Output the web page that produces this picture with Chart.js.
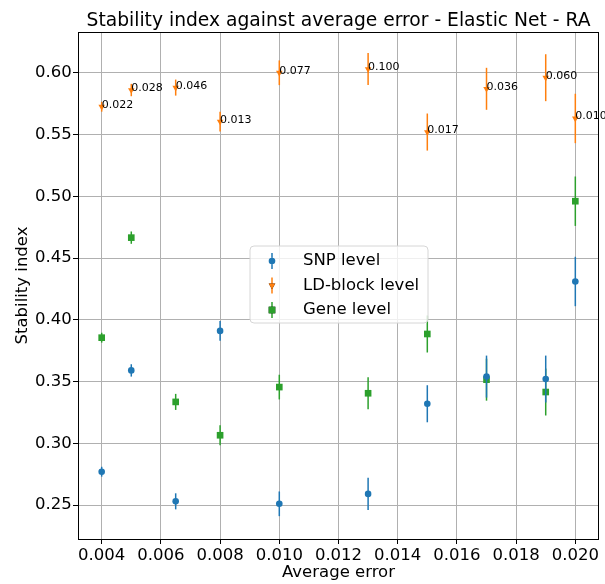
<!DOCTYPE html>
<html>
<head>
<meta charset="utf-8">
<script src="https://cdn.jsdelivr.net/npm/chart.js@4.4.0/dist/chart.umd.min.js"></script>
<style>
  body { margin: 0; background: #fff; }
</style>
</head>
<body>
<div style="width:605px;height:584px">
  <canvas id="stabilityChart" width="605" height="584"></canvas>
</div>
<script>
// values
const averageError = [0.004, 0.005, 0.0065, 0.008, 0.010, 0.013, 0.015, 0.017, 0.019, 0.020];
const snpLevel = [0.277, 0.359, 0.253, 0.391, 0.251, 0.259, 0.332, 0.354, 0.352, 0.431];
const ldBlockLevel = [0.5725, 0.586, 0.588, 0.5605, 0.600, 0.603, 0.552, 0.587, 0.596, 0.563];
const geneLevel = [0.3855, 0.4665, 0.3335, 0.3065, 0.3455, 0.3405, 0.3885, 0.3515, 0.3415, 0.496];
const errorBars = [0.004, 0.005, 0.0065, 0.008, 0.010, 0.013, 0.015, 0.017, 0.019, 0.020];
const ldLabels = ['0.022', '0.028', '0.046', '0.013', '0.077', '0.100', '0.017', '0.036', '0.060', '0.010'];
const xTicks = [0.004, 0.006, 0.008, 0.010, 0.012, 0.014, 0.016, 0.018, 0.020];
const yTicks = [0.25, 0.30, 0.35, 0.40, 0.45, 0.50, 0.55, 0.60];

const FONT = "'DejaVu Sans', sans-serif";
const LABEL_SIZE = 16.5;

function toPoints(ys) {
  return averageError.map((x, i) => ({ x: x, y: ys[i] }));
}

// vertical error bars, drawn just under each dataset's markers
const errorBarPlugin = {
  id: 'errorBars',
  beforeDatasetDraw(chart, args) {
    const ds = chart.data.datasets[args.index];
    const meta = args.meta;
    const yScale = chart.scales.y;
    const ctx = chart.ctx;
    ctx.save();
    ctx.beginPath();
    ctx.rect(chart.chartArea.left, chart.chartArea.top,
      chart.chartArea.right - chart.chartArea.left, chart.chartArea.bottom - chart.chartArea.top);
    ctx.clip();
    ctx.strokeStyle = ds.borderColor;
    ctx.lineWidth = 1.5;
    meta.data.forEach((pt, i) => {
      const v = ds.data[i].y;
      const e = errorBars[i];
      ctx.beginPath();
      ctx.moveTo(pt.x, yScale.getPixelForValue(v - e));
      ctx.lineTo(pt.x, yScale.getPixelForValue(v + e));
      ctx.stroke();
    });
    ctx.restore();
  }
};

// frame, LD-block annotations and the in-plot legend
const overlayPlugin = {
  id: 'overlay',
  afterDatasetsDraw(chart) {
    const ctx = chart.ctx;
    const a = chart.chartArea;
    ctx.save();
    ctx.strokeStyle = '#000';
    ctx.lineWidth = 1;
    ctx.strokeRect(Math.round(a.left) + 0.5, Math.round(a.top) + 0.5,
      Math.round(a.right - a.left) - 1, Math.round(a.bottom - a.top));

    // annotations next to the LD-block points
    const ldMeta = chart.getDatasetMeta(1);
    ctx.fillStyle = '#000';
    ctx.font = '11px ' + FONT;
    ctx.textAlign = 'left';
    ctx.textBaseline = 'alphabetic';
    ldMeta.data.forEach((pt, i) => {
      ctx.fillText(ldLabels[i], pt.x, pt.y + 1);
    });

    // legend box
    const bx = 250, by = 246, bw = 178, bh = 77, r = 4;
    ctx.beginPath();
    ctx.moveTo(bx + r, by);
    ctx.arcTo(bx + bw, by, bx + bw, by + bh, r);
    ctx.arcTo(bx + bw, by + bh, bx, by + bh, r);
    ctx.arcTo(bx, by + bh, bx, by, r);
    ctx.arcTo(bx, by, bx + bw, by, r);
    ctx.closePath();
    ctx.fillStyle = 'rgba(255,255,255,0.8)';
    ctx.fill();
    ctx.strokeStyle = '#d6d6d6';
    ctx.stroke();

    const entries = chart.data.datasets;
    entries.forEach((ds, i) => {
      const cy = 261 + i * 24.5;
      const mx = 272;
      ctx.strokeStyle = ds.borderColor;
      ctx.lineWidth = 1.5;
      ctx.beginPath();
      ctx.moveTo(mx, cy - 8);
      ctx.lineTo(mx, cy + 8);
      ctx.stroke();
      Chart.helpers.drawPoint(ctx, {
        pointStyle: ds.pointStyle,
        radius: ds.pointRadius,
        rotation: ds.rotation || 0,
        borderWidth: 0
      }, mx, cy);
      ctx.fillStyle = ds.backgroundColor;
      ctx.fill();
      ctx.fillStyle = '#000';
      ctx.font = LABEL_SIZE + 'px ' + FONT;
      ctx.textBaseline = 'middle';
      ctx.fillText(ds.label, 303, cy);
    });
    ctx.restore();
  }
};

const canvas = document.getElementById('stabilityChart');
new Chart(canvas, {
  type: 'scatter',
  data: {
    datasets: [
      {
        label: 'SNP level',
        data: toPoints(snpLevel),
        backgroundColor: '#1f77b4',
        borderColor: '#1f77b4',
        pointStyle: 'circle',
        pointRadius: 3.3,
        borderWidth: 0,
      },
      {
        label: 'LD-block level',
        data: toPoints(ldBlockLevel),
        backgroundColor: '#ff7f0e',
        borderColor: '#ff7f0e',
        pointStyle: 'triangle',
        rotation: 180,
        pointRotation: 180,
        pointRadius: 3.8,
        borderWidth: 0,
      },
      {
        label: 'Gene level',
        data: toPoints(geneLevel),
        backgroundColor: '#2ca02c',
        borderColor: '#2ca02c',
        pointStyle: 'rect',
        pointRadius: 4.7,
        borderWidth: 0,
      },
    ],
  },
  options: {
    responsive: false,
    animation: false,
    events: [],
    layout: { padding: { left: 0, right: 6, top: 0, bottom: 0 } },
    plugins: {
      legend: { display: false },
      tooltip: { enabled: false },
      title: {
        display: true,
        fullSize: false,
        text: 'Stability index against average error - Elastic Net - RA',
        color: '#000',
        font: { family: FONT, size: 18.7, weight: 'normal' },
        padding: { top: 9.5, bottom: 0.06 },
      },
    },
    scales: {
      x: {
        type: 'linear',
        min: 0.0032,
        max: 0.0208,
        afterBuildTicks: (scale) => { scale.ticks = xTicks.map((v) => ({ value: v })); },
        afterFit: (scale) => { scale.height = 45; },
        ticks: {
          color: '#000',
          font: { family: FONT, size: LABEL_SIZE },
          padding: 1.5,
          maxRotation: 0,
          autoSkip: false,
          callback: (v) => v.toFixed(3),
        },
        grid: { color: '#b0b0b0', lineWidth: 1, tickColor: '#000', tickLength: 5 },
        border: { display: false },
        title: {
          display: true,
          text: 'Average error',
          color: '#000',
          font: { family: FONT, size: LABEL_SIZE },
          padding: { top: 0, bottom: 1.3 },
        },
      },
      y: {
        type: 'linear',
        min: 0.2225,
        max: 0.633,
        afterBuildTicks: (scale) => { scale.ticks = yTicks.map((v) => ({ value: v })); },
        afterFit: (scale) => { scale.width = 78; },
        ticks: {
          color: '#000',
          font: { family: FONT, size: LABEL_SIZE },
          padding: 1.3,
          autoSkip: false,
          callback: (v) => v.toFixed(2),
        },
        grid: { color: '#b0b0b0', lineWidth: 1, tickColor: '#000', tickLength: 5 },
        border: { display: false },
        title: {
          display: true,
          text: 'Stability index',
          color: '#000',
          font: { family: FONT, size: LABEL_SIZE },
          padding: { top: 12.9, bottom: 0 },
        },
      },
    },
  },
  plugins: [errorBarPlugin, overlayPlugin],
});
</script>
</body>
</html>
